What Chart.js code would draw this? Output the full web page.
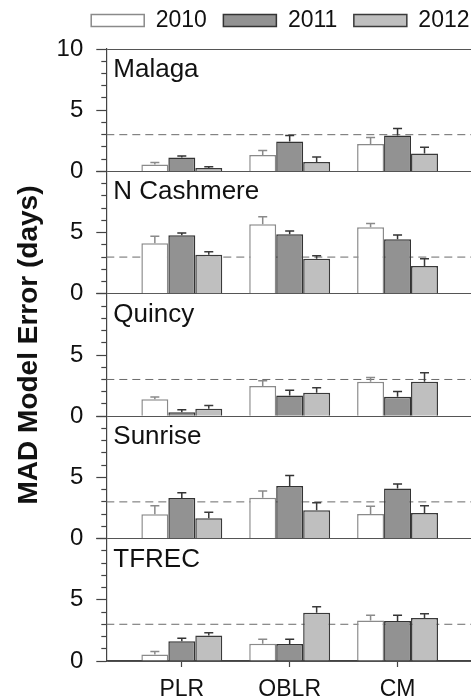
<!DOCTYPE html>
<html>
<head>
<meta charset="utf-8">
<script src="https://cdn.jsdelivr.net/npm/chart.js@4.4.0/dist/chart.umd.min.js"></script>
<style>
html, body { margin: 0; padding: 0; overflow: hidden; background: #fff; }
canvas { display: block; }
</style>
</head>
<body>
<canvas id="chart-mad" width="486" height="698"></canvas>
<script>
var methods = ['PLR', 'OBLR', 'CM'];
var years = ['2010', '2011', '2012'];
var sites = ['Malaga', 'N Cashmere', 'Quincy', 'Sunrise', 'TFREC'];
var yTitle = 'MAD Model Error (days)';

// rows = year (2010, 2011, 2012), columns = method (PLR, OBLR, CM)
var malaga      = [[0.57, 1.33, 2.23], [1.14, 2.45, 2.93], [0.27, 0.76, 1.47]];
var malagaErr   = [[0.16, 0.38, 0.54], [0.11, 0.48, 0.57], [0.11, 0.41, 0.51]];
var cashmere    = [[4.12, 5.69, 5.44], [4.78, 4.86, 4.45], [3.19, 2.86, 2.28]];
var cashmereErr = [[0.58, 0.60, 0.30], [0.19, 0.28, 0.36], [0.24, 0.24, 0.58]];
var quincy      = [[1.39, 2.46, 2.81], [0.33, 1.69, 1.58], [0.60, 1.91, 2.81]];
var quincyErr   = [[0.17, 0.44, 0.36], [0.19, 0.44, 0.44], [0.27, 0.41, 0.74]];
var sunrise     = [[1.98, 3.34, 2.01], [3.32, 4.29, 4.10], [1.66, 2.31, 2.09]];
var sunriseErr  = [[0.71, 0.55, 0.63], [0.43, 0.87, 0.36], [0.49, 0.62, 0.60]];
var tfrec       = [[0.54, 1.41, 3.30], [1.62, 1.38, 3.27], [2.08, 3.95, 3.51]];
var tfrecErr    = [[0.24, 0.37, 0.43], [0.24, 0.40, 0.46], [0.22, 0.48, 0.35]];

var threshold = 3;
var yMin = 0, yMax = 10;
var xMin = 0.3, xMax = 3.82;

var siteData = [malaga, cashmere, quincy, sunrise, tfrec];
var siteErr = [malagaErr, cashmereErr, quincyErr, sunriseErr, tfrecErr];
var fills = ['#ffffff', '#929292', '#bfbfbf'];
var edges = ['#8a8a8a', '#333333', '#3a3a3a'];

Chart.defaults.font.family = '"Liberation Sans", Arial, sans-serif';
Chart.defaults.color = '#111';

var datasets = [];
siteData.forEach(function (rows, s) {
    rows.forEach(function (vals, k) {
        datasets.push({
            type: 'bar',
            label: years[k],
            data: vals.map(function (v, m) { return {x: m + 1, y: v}; }),
            err: siteErr[s][k],
            yAxisID: 'y' + s,
            stack: years[k],
            backgroundColor: fills[k],
            borderColor: edges[k],
            borderWidth: 1.5,
            categoryPercentage: 0.75,
            barPercentage: 1.0
        });
    });
});
sites.forEach(function (name, s) {
    datasets.push({
        type: 'line',
        label: 'ref',
        data: [{x: xMin, y: threshold}, {x: xMax, y: threshold}],
        yAxisID: 'y' + s,
        borderColor: '#6a6a6a',
        borderWidth: 1,
        borderDash: [8, 5],
        pointRadius: 0,
        order: 10
    });
});

var scales = {
    x: {
        type: 'linear',
        min: xMin,
        max: xMax,
        offset: false,
        afterBuildTicks: function (scale) {
            scale.ticks = methods.map(function (m, i) { return {value: i + 1}; });
        },
        afterFit: function (scale) { scale.height = 37; },
        ticks: {
            callback: function (v) { return methods[v - 1]; },
            font: {size: 23},
            padding: 9,
            autoSkip: false,
            maxRotation: 0
        },
        grid: {offset: false, drawOnChartArea: false, tickLength: 6, tickColor: '#444', tickWidth: 1.2},
        border: {color: '#444', width: 1.2}
    }
};
sites.forEach(function (name, s) {
    scales['y' + s] = {
        type: 'linear',
        position: 'left',
        stack: 'panels',
        stackWeight: 1,
        weight: sites.length - s,
        min: yMin,
        max: yMax,
        afterFit: function (scale) { scale.width = 106.3; },
        ticks: {
            stepSize: 1,
            autoSkip: false,
            padding: 13,
            font: {size: 24},
            callback: function (v) {
                if (v % 5 !== 0) return '';
                if (v === yMax && s > 0) return '';
                return String(v);
            }
        },
        grid: {
            color: function (ctx) {
                var v = ctx.tick.value;
                return (v === yMin || (v === yMax && s === 0)) ? '#555' : 'rgba(0,0,0,0)';
            },
            tickColor: '#444',
            tickLength: 10,
            tickWidth: 1.2,
            tickBorderDash: function (ctx) { return ctx.tick.value % 5 === 0 ? [] : [5, 5]; },
            tickBorderDashOffset: function (ctx) { return ctx.tick.value % 5 === 0 ? 0 : 5; }
        },
        border: {color: '#444', width: 1.2}
    };
});

// make room between the legend and the top panel
var legendGap = {
    id: 'legendGap',
    beforeInit: function (chart) {
        var fit = chart.legend.fit;
        chart.legend.fit = function () {
            fit.call(this);
            this.height += 7;
        };
    }
};

var panelExtras = {
    id: 'panelExtras',
    afterDatasetsDraw: function (chart) {
        var ctx = chart.ctx;
        chart.data.datasets.forEach(function (ds, i) {
            if (!ds.err) return;
            var meta = chart.getDatasetMeta(i);
            var yScale = chart.scales[ds.yAxisID];
            ctx.save();
            ctx.strokeStyle = ds.borderColor;
            ctx.lineWidth = 1.5;
            meta.data.forEach(function (bar, j) {
                var yCap = yScale.getPixelForValue(ds.data[j].y + ds.err[j]);
                ctx.beginPath();
                ctx.moveTo(bar.x, bar.y);
                ctx.lineTo(bar.x, yCap);
                ctx.moveTo(bar.x - 4.5, yCap);
                ctx.lineTo(bar.x + 4.5, yCap);
                ctx.stroke();
            });
            ctx.restore();
        });
    },
    afterDraw: function (chart) {
        var ctx = chart.ctx;
        ctx.save();
        ctx.fillStyle = '#111';
        ctx.font = '26px "Liberation Sans", Arial, sans-serif';
        ctx.textAlign = 'left';
        ctx.textBaseline = 'alphabetic';
        sites.forEach(function (name, s) {
            ctx.fillText(name, chart.chartArea.left + 7, chart.scales['y' + s].top + 28);
        });
        ctx.translate(29, 345);
        ctx.rotate(-Math.PI / 2);
        ctx.textAlign = 'center';
        ctx.textBaseline = 'middle';
        ctx.font = 'bold 28px "Liberation Sans", Arial, sans-serif';
        ctx.fillText(yTitle, 0, 0);
        ctx.restore();
    }
};

var chart1 = new Chart(document.getElementById('chart-mad').getContext('2d'), {
    data: {datasets: datasets},
    options: {
        responsive: false,
        animation: false,
        layout: {padding: {top: -7.5, left: 0, right: 0, bottom: 0}},
        plugins: {
            legend: {
                position: 'top',
                align: 'end',
                labels: {
                    boxWidth: 53,
                    boxHeight: 12,
                    padding: 16.5,
                    font: {size: 23},
                    filter: function (item) { return item.datasetIndex < years.length; }
                }
            },
            tooltip: {enabled: false}
        },
        scales: scales
    },
    plugins: [legendGap, panelExtras]
});
</script>
</body>
</html>
